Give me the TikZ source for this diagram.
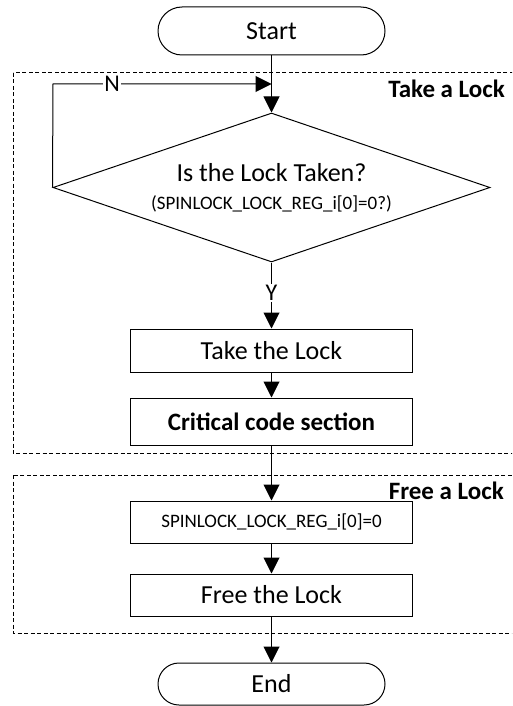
\documentclass[tikz,border=0pt]{standalone}
\usepackage{fontspec}
\setmainfont{Carlito}
\usetikzlibrary{arrows.meta,shapes.geometric}
\tikzset{
  base/.style={draw=black,line width=1pt,inner sep=0pt,font=\fontsize{26}{28}\selectfont},
  term/.style={base,rounded corners=21pt,minimum width=227pt,minimum height=44pt},
  proc/.style={base,minimum width=282pt},
  dec/.style={base,diamond,aspect=2.93,minimum width=437pt,minimum height=149pt,align=center},
  conn/.style={line width=1pt,-{Triangle[width=16pt,length=16pt]}},
  plain/.style={line width=1pt},
  group/.style={line width=1pt,dash pattern=on 4pt off 2.5pt,draw=black},
  grouplabel/.style={font=\bfseries\fontsize{25}{28}\selectfont,anchor=east,inner sep=0pt},
  yn/.style={font=\fontsize{24}{26}\selectfont,inner sep=1pt,fill=white}
}
\begin{document}
\begin{tikzpicture}[x=1pt,y=-1pt]
\useasboundingbox (0,0) rectangle (512,706);
\clip (0,0) rectangle (512,706);
% groups
\draw[group] (13,73) rectangle (530,453);
\draw[group] (13,475) rectangle (530,633);
\node[grouplabel] (lt) at (505,89) {Take a Lock};
\node[grouplabel] (lf) at (504,491) {Free a Lock};
% nodes
\node[term,minimum height=48pt,rounded corners=24pt] (start) at (271.5,31) {Start};
\node[dec] (q) at (271.5,187.5) {Is the Lock Taken?\\[0pt]{\fontsize{19}{21}\selectfont (SPINLOCK\_LOCK\_REG\_i[0]=0?)}};
\node[proc,minimum height=43pt] (take) at (271.5,350.5) {Take the Lock};
\node[proc,minimum height=47pt,font=\bfseries\fontsize{25}{28}\selectfont] (crit) at (271.5,421.5) {Critical code section};
\node[proc,minimum height=42pt,font=\fontsize{19}{21}\selectfont] (spin) at (271.5,522) {SPINLOCK\_LOCK\_REG\_i[0]=0};
\node[proc,minimum height=42pt] (free) at (271.5,595) {Free the Lock};
\node[term,minimum height=42pt] (end) at (271.5,684) {End};
\node[yn] (y) at (271.5,293) {Y};
\coordinate (join) at (271.5,84);
\coordinate (loopc) at (53,84);
% connectors
\draw[conn] (start) -- (q);
\draw[conn] (q.west) -- (loopc) -- node[yn,pos=0.27] (n) {N} (join);
\draw[plain] (q.south) -- (y.north);
\draw[conn] (y.south) -- (take.north);
\draw[conn] (take) -- (crit);
\draw[conn] (crit) -- (spin);
\draw[conn] (spin) -- (free);
\draw[conn] (free) -- (end);
\end{tikzpicture}
\end{document}
